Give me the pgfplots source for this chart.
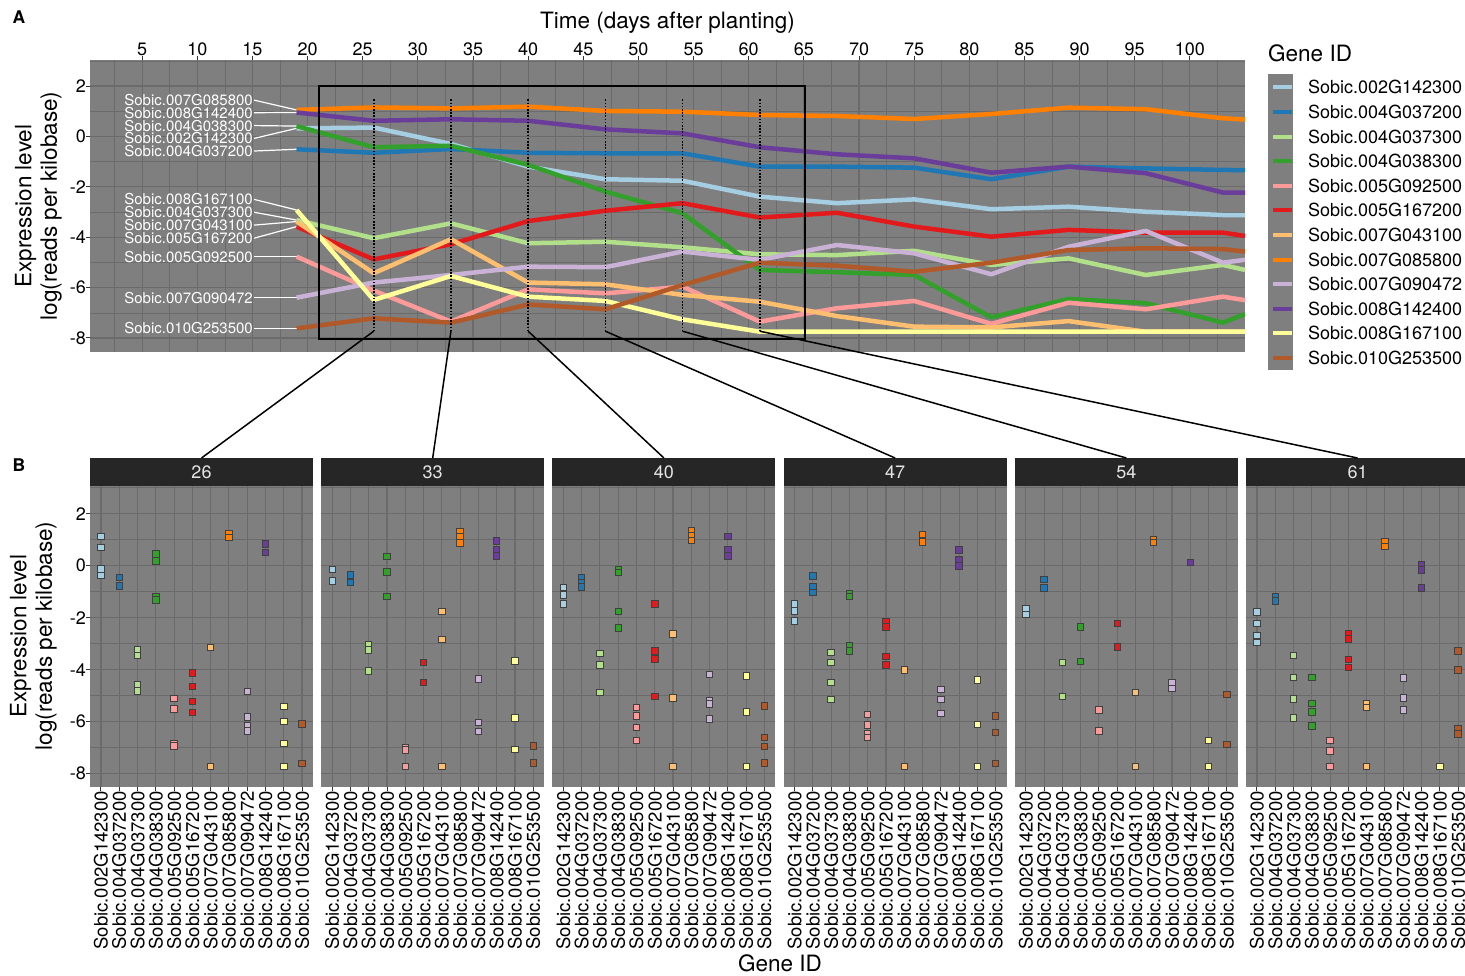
\documentclass[border=0pt]{standalone}
\usepackage{pgfplots}
\pgfplotsset{compat=1.18}
\usepackage{pgfplotstable}
\usepackage{fontspec}
\setmainfont{TeX Gyre Heros}

\definecolor{ca}{HTML}{A6CEE3}
\definecolor{cb}{HTML}{1F78B4}
\definecolor{cc}{HTML}{B2DF8A}
\definecolor{cd}{HTML}{33A02C}
\definecolor{ce}{HTML}{FB9A99}
\definecolor{cf}{HTML}{E31A1C}
\definecolor{cg}{HTML}{FDBF6F}
\definecolor{ch}{HTML}{FF7F00}
\definecolor{ci}{HTML}{CAB2D6}
\definecolor{cj}{HTML}{6A3D9A}
\definecolor{ck}{HTML}{FFFF99}
\definecolor{cl}{HTML}{B15928}
\definecolor{grey50}{HTML}{7F7F7F}
\definecolor{grey42}{HTML}{6B6B6B}
\definecolor{grey20}{HTML}{333333}
\definecolor{grey15}{HTML}{262626}
\definecolor{grey90}{HTML}{E5E5E5}

\newcommand\fA{\fontsize{22.5bp}{25.5bp}\selectfont}
\newcommand\fB{\fontsize{18bp}{21bp}\selectfont}
\newcommand\fC{\fontsize{15bp}{17bp}\selectfont}
\newcommand\fD{\fontsize{18.5bp}{21bp}\selectfont}

\pgfplotstableread{
day g1 g2 g3 g4 g5 g6 g7 g8 g9 g10 g11 g12
19 0.32 -0.51 -3.32 0.41 -4.77 -3.58 -3.38 1.05 -6.40 0.95 -2.92 -7.62
26 0.35 -0.65 -4.04 -0.43 -6.12 -4.88 -5.43 1.15 -5.80 0.62 -6.49 -7.22
33 -0.30 -0.50 -3.45 -0.37 -7.35 -4.28 -4.08 1.11 -5.50 0.68 -5.54 -7.39
40 -1.20 -0.65 -4.24 -1.13 -6.07 -3.36 -5.80 1.18 -5.17 0.62 -6.36 -6.67
47 -1.70 -0.67 -4.18 -2.19 -6.23 -2.95 -5.87 1.01 -5.19 0.28 -6.53 -6.86
54 -1.76 -0.67 -4.40 -3.05 -5.96 -2.65 -6.29 0.98 -4.57 0.12 -7.26 -5.90
61 -2.39 -1.20 -4.68 -5.30 -7.35 -3.22 -6.56 0.85 -4.90 -0.43 -7.75 -5.01
68 -2.65 -1.20 -4.71 -5.39 -6.82 -3.03 -7.13 0.81 -4.31 -0.71 -7.75 -5.13
75 -2.50 -1.24 -4.54 -5.50 -6.53 -3.58 -7.55 0.69 -4.64 -0.87 -7.75 -5.37
82 -2.89 -1.70 -5.10 -7.18 -7.44 -3.98 -7.58 0.89 -5.47 -1.44 -7.75 -5.01
89 -2.79 -1.20 -4.84 -6.45 -6.60 -3.71 -7.33 1.14 -4.38 -1.20 -7.75 -4.51
96 -2.99 -1.27 -5.50 -6.62 -6.86 -3.82 -7.75 1.08 -3.75 -1.46 -7.75 -4.44
103 -3.12 -1.33 -5.10 -7.39 -6.36 -3.82 -7.75 0.72 -5.01 -2.23 -7.75 -4.47
105 -3.12 -1.34 -5.30 -7.05 -6.50 -3.95 -7.75 0.67 -4.90 -2.23 -7.75 -4.57
}\topdata

\pgfplotstableread{
x y c
1 1.12 a
1 0.71 a
1 -0.13 a
1 -0.38 a
2 -0.45 b
2 -0.78 b
3 -3.24 c
3 -3.46 c
3 -4.59 c
3 -4.81 c
4 0.45 d
4 0.19 d
4 -1.19 d
4 -1.32 d
5 -5.10 e
5 -5.51 e
5 -6.83 e
5 -6.94 e
6 -4.12 f
6 -4.65 f
6 -5.21 f
6 -5.64 f
7 -3.14 g
7 -7.73 g
8 1.22 h
8 1.09 h
9 -4.83 i
9 -5.81 i
9 -6.15 i
9 -6.36 i
10 0.83 j
10 0.51 j
11 -5.42 k
11 -6.00 k
11 -6.83 k
11 -7.73 k
12 -6.09 l
12 -7.60 l
}\ptsA

\pgfplotstableread{
x y c
1 -0.14 a
1 -0.58 a
2 -0.36 b
2 -0.64 b
3 -3.05 c
3 -3.24 c
3 -4.05 c
4 0.35 d
4 -0.24 d
4 -1.19 d
5 -6.99 e
5 -7.09 e
5 -7.73 e
6 -3.73 f
6 -4.50 f
7 -1.77 g
7 -2.83 g
7 -7.73 g
8 1.31 h
8 1.12 h
8 0.88 h
9 -4.36 i
9 -6.04 i
9 -6.38 i
10 0.95 j
10 0.60 j
10 0.37 j
11 -3.67 k
11 -5.85 k
11 -7.06 k
12 -6.94 l
12 -7.58 l
}\ptsB

\pgfplotstableread{
x y c
1 -0.83 a
1 -1.13 a
1 -1.47 a
2 -0.46 b
2 -0.65 b
2 -0.81 b
3 -3.37 c
3 -3.82 c
3 -4.88 c
4 -0.17 d
4 -0.27 d
4 -1.76 d
4 -2.40 d
5 -5.46 e
5 -5.78 e
5 -6.22 e
5 -6.73 e
6 -1.47 f
6 -3.28 f
6 -3.58 f
6 -5.04 f
7 -2.63 g
7 -5.09 g
7 -7.73 g
8 1.33 h
8 1.15 h
8 0.96 h
9 -4.18 i
9 -5.19 i
9 -5.32 i
9 -5.90 i
10 1.12 j
10 0.63 j
10 0.37 j
11 -4.24 k
11 -5.62 k
11 -7.73 k
12 -5.40 l
12 -6.60 l
12 -6.96 l
12 -7.58 l
}\ptsC

\pgfplotstableread{
x y c
1 -1.47 a
1 -1.74 a
1 -2.13 a
2 -0.40 b
2 -0.81 b
2 -1.03 b
3 -3.33 c
3 -3.73 c
3 -4.50 c
3 -5.14 c
4 -1.06 d
4 -1.19 d
4 -3.09 d
4 -3.28 d
5 -5.71 e
5 -6.13 e
5 -6.47 e
5 -6.60 e
6 -2.15 f
6 -2.35 f
6 -3.50 f
6 -3.82 f
7 -4.01 g
7 -7.73 g
8 1.21 h
8 0.92 h
9 -4.76 i
9 -5.14 i
9 -5.68 i
10 0.60 j
10 0.22 j
10 -0.01 j
11 -4.40 k
11 -6.10 k
11 -7.73 k
12 -5.78 l
12 -6.42 l
12 -7.60 l
}\ptsD

\pgfplotstableread{
x y c
1 -1.64 a
1 -1.87 a
2 -0.53 b
2 -0.85 b
3 -3.73 c
3 -5.04 c
4 -2.36 d
4 -3.69 d
5 -5.55 e
5 -6.35 e
6 -2.22 f
6 -3.12 f
7 -4.88 g
7 -7.73 g
8 1.01 h
8 0.90 h
9 -4.50 i
9 -4.73 i
10 0.12 j
11 -6.71 k
11 -7.73 k
12 -4.95 l
12 -6.88 l
}\ptsE

\pgfplotstableread{
x y c
1 -1.78 a
1 -2.21 a
1 -2.69 a
1 -2.96 a
2 -1.19 b
2 -1.35 b
3 -3.46 c
3 -4.29 c
3 -5.12 c
3 -5.85 c
4 -4.29 d
4 -5.29 d
4 -5.62 d
4 -6.17 d
5 -6.71 e
5 -7.12 e
5 -7.73 e
6 -2.63 f
6 -2.82 f
6 -3.60 f
6 -3.91 f
7 -5.32 g
7 -5.45 g
7 -7.73 g
8 0.92 h
8 0.73 h
9 -4.32 i
9 -5.09 i
9 -5.55 i
10 0.03 j
10 -0.17 j
10 -0.85 j
11 -7.73 k
12 -3.28 l
12 -4.01 l
12 -6.26 l
12 -6.47 l
}\ptsF

\tikzset{pe/.style={draw=black!75, line width=0.9bp}}

\pgfplotsset{
  ggbase/.style={
    scale only axis, anchor=north west,
    axis background/.style={fill=grey50},
    axis line style={draw=none},
    grid=both,
    major grid style={draw=grey42, line width=1.1bp},
    minor grid style={draw=grey42, line width=0.55bp},
    tick align=outside,
    major tick length=4bp, minor tick length=0pt,
    tick style={draw=grey20, line width=1bp},
    tick label style={font=\fB},
    enlargelimits=false,
  },
  facet/.style={ggbase, width=223bp, height=301bp,
    xmin=0.4, xmax=12.6, ymin=-8.512, ymax=3.065,
    xtick={1,2,3,4,5,6,7,8,9,10,11,12},
    xticklabels={Sobic.002G142300,Sobic.004G037200,Sobic.004G037300,Sobic.004G038300,Sobic.005G092500,Sobic.005G167200,Sobic.007G043100,Sobic.007G085800,Sobic.007G090472,Sobic.008G142400,Sobic.008G167100,Sobic.010G253500},
    xtick pos=left, ytick pos=left,
    ytick={-8,-6,-4,-2,0,2}, minor ytick={-7,-5,-3,-1,1,3},
    xticklabel style={rotate=90, anchor=east, inner sep=0pt, font=\fD},
    yticklabel style={anchor=east, inner sep=0pt},
  },
  pts/.style={scatter, only marks, mark=square*, mark size=3.2bp,
    scatter src=explicit symbolic,
    scatter/classes={
      a={mark=square*, fill=ca, pe}, b={mark=square*, fill=cb, pe},
      c={mark=square*, fill=cc, pe}, d={mark=square*, fill=cd, pe},
      e={mark=square*, fill=ce, pe}, f={mark=square*, fill=cf, pe},
      g={mark=square*, fill=cg, pe}, h={mark=square*, fill=ch, pe},
      i={mark=square*, fill=ci, pe}, j={mark=square*, fill=cj, pe},
      k={mark=square*, fill=ck, pe}, l={mark=square*, fill=cl, pe}}},
}

\newcommand\facet[3]{%
  \begin{axis}[facet, at={(#1bp,-486bp)}, #3]
    \addplot[pts] table[x=x, y=y, meta=c] {#2};
  \end{axis}}

\begin{document}
\begin{tikzpicture}
% legend key background
\fill[grey50] (1268bp,-74bp) rectangle (1293bp,-370bp);

\begin{axis}[ggbase, name=top, at={(90bp,-60bp)}, width=1155bp, height=292bp,
  xmin=0.27, xmax=105, ymin=-8.556, ymax=3.032,
  xtick={5,10,...,100}, minor xtick={2.5,7.5,...,102.5},
  xticklabels={5,10,15,20,25,30,35,40,45,50,55,60,65,70,75,80,85,90,95,100},
  ytick={-8,-6,-4,-2,0,2}, minor ytick={-7,-5,-3,-1,1,3},
  yticklabels={-8,-6,-4,-2,0,2},
  xtick pos=right, xticklabel pos=right, ytick pos=left,
  xticklabel style={anchor=south, inner sep=0pt},
  yticklabel style={anchor=east, inner sep=0pt},
  legend style={at={(1.02251,0.92911)}, anchor=north west, draw=none, fill=none,
    inner sep=0pt, outer sep=0pt, row sep=11.4bp, column sep=14bp, font=\fB,
    nodes={inner sep=0pt, text height=13.2bp, text depth=0bp}, cells={anchor=west}},
  legend image code/.code={\draw[#1, line width=4bp] (0bp,0bp) -- (19bp,0bp);},
]
% leader lines for labels
\addplot[white, line width=1.2bp, forget plot] coordinates {(15.15,1.44) (19,1.05)};
\addplot[white, line width=1.2bp, forget plot] coordinates {(15.15,0.94) (19,0.95)};
\addplot[white, line width=1.2bp, forget plot] coordinates {(15.15,0.43) (19,0.41)};
\addplot[white, line width=1.2bp, forget plot] coordinates {(15.15,-0.08) (19,0.32)};
\addplot[white, line width=1.2bp, forget plot] coordinates {(15.15,-0.58) (19,-0.51)};
\addplot[white, line width=1.2bp, forget plot] coordinates {(15.15,-2.50) (19,-2.92)};
\addplot[white, line width=1.2bp, forget plot] coordinates {(15.15,-3.01) (19,-3.32)};
\addplot[white, line width=1.2bp, forget plot] coordinates {(15.15,-3.52) (19,-3.38)};
\addplot[white, line width=1.2bp, forget plot] coordinates {(15.15,-4.04) (19,-3.58)};
\addplot[white, line width=1.2bp, forget plot] coordinates {(15.15,-4.77) (19,-4.77)};
\addplot[white, line width=1.2bp, forget plot] coordinates {(15.15,-6.40) (19,-6.40)};
\addplot[white, line width=1.2bp, forget plot] coordinates {(15.15,-7.62) (19,-7.62)};

\addplot[ca, line width=4.5bp, line join=round] table[x=day, y=g1] {\topdata};
\addlegendentry{Sobic.002G142300}
\addplot[cb, line width=4.5bp, line join=round] table[x=day, y=g2] {\topdata};
\addlegendentry{Sobic.004G037200}
\addplot[cc, line width=4.5bp, line join=round] table[x=day, y=g3] {\topdata};
\addlegendentry{Sobic.004G037300}
\addplot[cd, line width=4.5bp, line join=round] table[x=day, y=g4] {\topdata};
\addlegendentry{Sobic.004G038300}
\addplot[ce, line width=4.5bp, line join=round] table[x=day, y=g5] {\topdata};
\addlegendentry{Sobic.005G092500}
\addplot[cf, line width=4.5bp, line join=round] table[x=day, y=g6] {\topdata};
\addlegendentry{Sobic.005G167200}
\addplot[cg, line width=4.5bp, line join=round] table[x=day, y=g7] {\topdata};
\addlegendentry{Sobic.007G043100}
\addplot[ch, line width=4.5bp, line join=round] table[x=day, y=g8] {\topdata};
\addlegendentry{Sobic.007G085800}
\addplot[ci, line width=4.5bp, line join=round] table[x=day, y=g9] {\topdata};
\addlegendentry{Sobic.007G090472}
\addplot[cj, line width=4.5bp, line join=round] table[x=day, y=g10] {\topdata};
\addlegendentry{Sobic.008G142400}
\addplot[ck, line width=4.5bp, line join=round] table[x=day, y=g11] {\topdata};
\addlegendentry{Sobic.008G167100}
\addplot[cl, line width=4.5bp, line join=round] table[x=day, y=g12] {\topdata};
\addlegendentry{Sobic.010G253500}

% gene labels
\begin{scope}[every node/.style={anchor=east, font=\fC, text=white, inner sep=0pt}]
\node at (axis cs:15.05,1.44) {Sobic.007G085800};
\node at (axis cs:15.05,0.94) {Sobic.008G142400};
\node at (axis cs:15.05,0.43) {Sobic.004G038300};
\node at (axis cs:15.05,-0.08) {Sobic.002G142300};
\node at (axis cs:15.05,-0.58) {Sobic.004G037200};
\node at (axis cs:15.05,-2.50) {Sobic.008G167100};
\node at (axis cs:15.05,-3.01) {Sobic.004G037300};
\node at (axis cs:15.05,-3.52) {Sobic.007G043100};
\node at (axis cs:15.05,-4.04) {Sobic.005G167200};
\node at (axis cs:15.05,-4.77) {Sobic.005G092500};
\node at (axis cs:15.05,-6.40) {Sobic.007G090472};
\node at (axis cs:15.05,-7.62) {Sobic.010G253500};
\end{scope}

% zoom box and dotted lines
\draw[black, line width=1.8bp] (axis cs:21.05,-8.03) rectangle (axis cs:65.1,2.0);
\pgfplotsinvokeforeach{26,33,40,47,54,61}{
  \draw[black, line width=1.6bp, dash pattern=on 1.6bp off 1.6bp] (axis cs:#1,1.47) -- (axis cs:#1,-7.73);
  \coordinate (d#1) at (axis cs:#1,-7.73);
}
\end{axis}

% facets
\facet{90}{\ptsA}{yticklabels={-8,-6,-4,-2,0,2}}
\facet{321.2}{\ptsB}{yticklabels={,,,,,}, ytick style={draw=none}}
\facet{552.4}{\ptsC}{yticklabels={,,,,,}, ytick style={draw=none}}
\facet{783.6}{\ptsD}{yticklabels={,,,,,}, ytick style={draw=none}}
\facet{1014.8}{\ptsE}{yticklabels={,,,,,}, ytick style={draw=none}}
\facet{1246}{\ptsF}{yticklabels={,,,,,}, ytick style={draw=none}}

% strips
\foreach \L/\T in {90/26, 321.2/33, 552.4/40, 783.6/47, 1014.8/54, 1246/61}{
  \fill[grey15] (\L bp,-458bp) rectangle ({\L bp+223bp},-486bp);
  \node[text=grey90, font=\fB, inner sep=0pt] at ({\L bp+111.5bp},-472bp) {\T};
}

% connectors
\draw[black, line width=1.5bp] (d26) -- (201.5bp,-458bp);
\draw[black, line width=1.5bp] (d33) -- (432.7bp,-458bp);
\draw[black, line width=1.5bp] (d40) -- (663.9bp,-458bp);
\draw[black, line width=1.5bp] (d47) -- (895.1bp,-458bp);
\draw[black, line width=1.5bp] (d54) -- (1126.3bp,-458bp);
\draw[black, line width=1.5bp] (d61) -- (1357.5bp,-458bp);

% titles
\node[anchor=base, font=\fA, inner sep=0pt] at (667.5bp,-28.5bp) {Time (days after planting)};
\node[anchor=base west, font=\fA, inner sep=0pt] at (1268bp,-61bp) {Gene ID};
\node[rotate=90, align=center, font=\fA, inner sep=0pt] at (38.5bp,-206bp) {Expression level\\log(reads per kilobase)};
\node[rotate=90, align=center, font=\fA, inner sep=0pt] at (33.5bp,-636bp) {Expression level\\log(reads per kilobase)};
\node[font=\fA, inner sep=0pt] at (780bp,-963bp) {Gene ID};
\node[anchor=base west, font=\bfseries\fontsize{17.5bp}{20bp}\selectfont, inner sep=0pt] at (12.5bp,-23.3bp) {A};
\node[anchor=base west, font=\bfseries\fontsize{17.5bp}{20bp}\selectfont, inner sep=0pt] at (12.5bp,-471bp) {B};

\pgfresetboundingbox
\path[use as bounding box] (0bp,0bp) rectangle (1465bp,-976bp);
\end{tikzpicture}
\end{document}
